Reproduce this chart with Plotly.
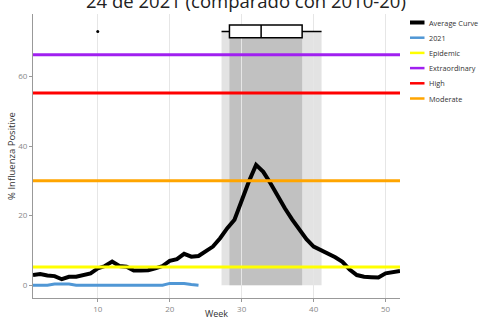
import plotly.graph_objects as go

weeks = list(range(1, 53))
average_curve = [2.9, 3.2, 2.8, 2.6, 1.7, 2.4, 2.4, 2.9, 3.4, 4.8,
                 5.5, 6.8, 5.5, 5.3, 4.2, 4.2, 4.3, 4.8, 5.5, 7.0,
                 7.5, 9.0, 8.2, 8.4, 9.7, 11.1, 13.5, 16.4, 18.8, 24.5,
                 29.8, 34.6, 32.6, 29.3, 25.4, 22.1, 18.9, 15.9, 13.2, 11.1,
                 10.1, 9.3, 8.0, 6.7, 4.5, 2.9, 2.4, 2.3, 2.2, 3.4,
                 3.8, 4.1]
weeks_2021 = list(range(1, 25))
values_2021 = [0.0, 0.0, 0.0, 0.3, 0.3, 0.3, 0.0, 0.0, 0.0, 0.0,
               0.0, 0.0, 0.0, 0.0, 0.0, 0.0, 0.0, 0.0, 0.0, 0.5,
               0.5, 0.5, 0.2, 0.0]

thresholds = {"Epidemic": 5.2, "Extraordinary": 66.3, "High": 55.3, "Moderate": 30.0}
threshold_colors = {"Epidemic": "#FFFF00", "Extraordinary": "#A020F0", "High": "#FF0000", "Moderate": "#FFA500"}

# peak-week distribution (box) and shaded season bands
box_q1, box_median, box_q3 = 28.3, 32.7, 38.4
box_lower, box_upper = 27.2, 41.1
box_outlier = 10
box_level = 73.0
band_outer = (27.2, 41.1)
band_inner = (28.3, 38.4)

x_range = [1, 52]
y_range = [-3.7, 78]

fig = go.Figure()

fig.add_shape(type="rect", xref="x", yref="y", x0=band_outer[0], x1=band_outer[1],
              y0=0, y1=box_level, fillcolor="rgba(200,200,200,0.5)", line_width=0, layer="below")
fig.add_shape(type="rect", xref="x", yref="y", x0=band_inner[0], x1=band_inner[1],
              y0=0, y1=box_level, fillcolor="rgba(150,150,150,0.45)", line_width=0, layer="below")

fig.add_trace(go.Scatter(x=weeks, y=average_curve, mode="lines", name="Average Curve",
                         line=dict(color="#000000", width=4)))
fig.add_trace(go.Scatter(x=weeks_2021, y=values_2021, mode="lines", name="2021",
                         line=dict(color="#5097D5", width=3)))
for name in ["Epidemic", "Extraordinary", "High", "Moderate"]:
    fig.add_trace(go.Scatter(x=x_range, y=[thresholds[name]] * 2, mode="lines", name=name,
                             line=dict(color=threshold_colors[name], width=3)))

fig.add_trace(go.Box(orientation="h", y=[box_level], q1=[box_q1], median=[box_median], q3=[box_q3],
                     lowerfence=[box_lower], upperfence=[box_upper], width=3.6, whiskerwidth=0,
                     fillcolor="white", line=dict(color="black", width=1.5), boxpoints=False,
                     showlegend=False, hoverinfo="skip"))
fig.add_trace(go.Scatter(x=[box_outlier], y=[box_level], mode="markers",
                         marker=dict(color="black", size=3), showlegend=False))

# legend drawn as decoration
legend_names = ["Average Curve", "2021", "Epidemic", "Extraordinary", "High", "Moderate"]
legend_colors = ["#000000", "#5097D5", "#FFFF00", "#A020F0", "#FF0000", "#FFA500"]
legend_widths = [4, 2.5, 2.5, 2.5, 2.5, 2.5]
W, H = 479, 320
PL, PR, PT, PB = 33, 400, 14, 298
for i, (nm, col, lw) in enumerate(zip(legend_names, legend_colors, legend_widths)):
    ypx = 22.5 + i * 15.2
    yp = 1 - (ypx - PT) / (PB - PT)
    x0 = (410 - PL) / (PR - PL)
    x1 = (424.5 - PL) / (PR - PL)
    xt = (427 - PL) / (PR - PL)
    fig.add_shape(type="line", xref="paper", yref="paper", x0=x0, x1=x1, y0=yp, y1=yp,
                  line=dict(color=col, width=lw))
    fig.add_annotation(xref="paper", yref="paper", x=xt, y=yp, text=nm, showarrow=False,
                       xanchor="left", yanchor="middle", font=dict(size=7.3, color="#333333"))

# title (only its last line is visible in the frame)
fig.add_annotation(xref="paper", yref="paper", x=(246 - PL) / (PR - PL), y=1 + (PT - 0) / (PB - PT),
                   text="24 de 2021 (comparado con 2010-20)", showarrow=False,
                   xanchor="center", yanchor="middle", font=dict(size=18.5, color="#222222"))

fig.update_layout(
    width=W, height=H,
    margin=dict(l=PL, r=W - PR, t=PT, b=H - PB),
    paper_bgcolor="white", plot_bgcolor="white",
    showlegend=False,
    font=dict(family="Open Sans, sans-serif"),
)
fig.update_xaxes(range=x_range, tickvals=[10, 20, 30, 40, 50], showgrid=True, gridcolor="#e6e6e6",
                 gridwidth=1, zeroline=False, showline=True, linecolor="#999999", linewidth=1,
                 ticks="outside", ticklen=3, tickcolor="#999999", tickfont=dict(size=8, color="#888888"),
                 title=dict(text="Week", font=dict(size=9, color="#333333"), standoff=2),
                 automargin=False)
fig.update_yaxes(range=y_range, tickvals=[0, 20, 40, 60], showgrid=False, zeroline=False,
                 showline=True, linecolor="#999999", linewidth=1, ticks="outside", ticklen=3,
                 tickcolor="#999999", tickfont=dict(size=8, color="#888888"),
                 title=dict(text="% Influenza Positive", font=dict(size=9.5, color="#333333"), standoff=0),
                 automargin=False)

fig.write_html("out.html", config={"displayModeBar": False},
               post_script="document.body.style.margin='0';")
